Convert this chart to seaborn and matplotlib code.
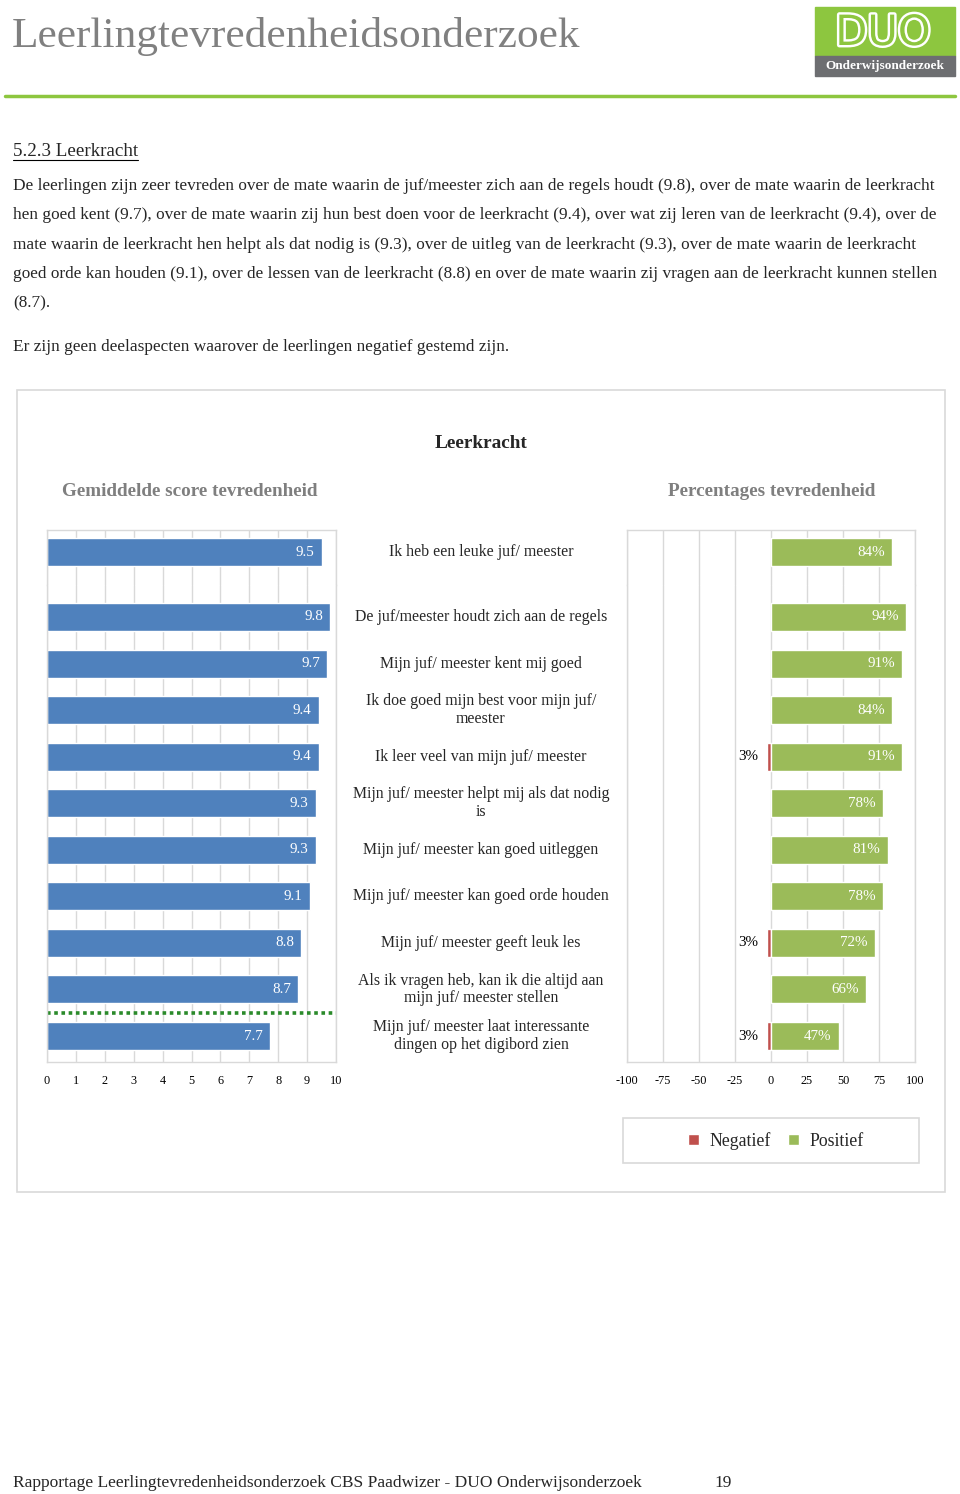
"""
Leerlingtevredenheidsonderzoek - pagina 19, hoofdstuk 5.2.3 Leerkracht
"""

import matplotlib
matplotlib.use("Agg")

import matplotlib.pyplot as plt
import matplotlib.patheffects as pe
import matplotlib.transforms as mtransforms
from matplotlib.patches import Rectangle
from matplotlib.lines import Line2D
import seaborn as sns
import pandas as pd

# ---- data ----
top_label = "Ik heb een leuke juf/ meester"
top_score = 9.5
top_pos = 84
top_neg = 0

items = [
    "De juf/meester houdt zich aan de regels",
    "Mijn juf/ meester kent mij goed",
    "Ik doe goed mijn best voor mijn juf/\nmeester",
    "Ik leer veel van mijn juf/ meester",
    "Mijn juf/ meester helpt mij als dat nodig\nis",
    "Mijn juf/ meester kan goed uitleggen",
    "Mijn juf/ meester kan goed orde houden",
    "Mijn juf/ meester geeft leuk les",
    "Als ik vragen heb, kan ik die altijd aan\nmijn juf/ meester stellen",
    "Mijn juf/ meester laat interessante\ndingen op het digibord zien",
]
scores = [9.8, 9.7, 9.4, 9.4, 9.3, 9.3, 9.1, 8.8, 8.7, 7.7]
positief = [94, 91, 84, 91, 78, 81, 78, 72, 66, 47]
negatief = [0, 0, 0, 3, 0, 0, 0, 3, 0, 3]

score_ticks = list(range(0, 11))
pct_ticks = [-100, -75, -50, -25, 0, 25, 50, 75, 100]

BLUE = "#4F81BD"
GREEN = "#9BBB59"
RED = "#C0504D"
GRID = "#D9D9D9"
GRAY_TXT = "#7F7F7F"

sns.set_theme(style="white")
plt.rcParams["font.family"] = ["Liberation Serif", "DejaVu Serif"]

W, H = 960, 1494
fig = plt.figure(figsize=(W / 100, H / 100), dpi=100)


def fx(x):
    return x / W


def fy(y):
    return 1 - y / H


def box(x0, y0, x1, y1):
    return [fx(x0), fy(y1), fx(x1) - fx(x0), fy(y0) - fy(y1)]


# ---- page header ----
fig.text(fx(12), fy(47), "Leerlingtevredenheidsonderzoek", fontsize=31.2,
         color="#808080", va="baseline", ha="left")
fig.patches.append(Rectangle((fx(815), fy(56)), fx(140), fy(7) - fy(56),
                             transform=fig.transFigure, color="#8DC63F"))
fig.patches.append(Rectangle((fx(815), fy(76)), fx(140), fy(56) - fy(76),
                             transform=fig.transFigure, color="#6D6E71"))
fig.text(fx(883), fy(33), "DUO", fontsize=30, color="#8DC63F", ha="center",
         va="center", family=["DejaVu Sans"],
         path_effects=[pe.withStroke(linewidth=3.5, foreground="white")])
fig.text(fx(885), fy(66), "Onderwijsonderzoek", fontsize=9.5, color="white",
         ha="center", va="center", fontweight="bold")
fig.lines.append(Line2D([fx(5), fx(955)], [fy(96), fy(96)],
                        transform=fig.transFigure, color="#8DC63F", lw=2.5))

# ---- text body ----
fig.text(fx(13), fy(151), "5.2.3 Leerkracht", fontsize=13.7, va="center")
fig.lines.append(Line2D([fx(13), fx(138)], [fy(160), fy(160)],
                        transform=fig.transFigure, color="black", lw=0.8))

body = [
    "De leerlingen zijn zeer tevreden over de mate waarin de juf/meester zich aan de regels houdt (9.8), over de mate waarin de leerkracht",
    "hen goed kent (9.7), over de mate waarin zij hun best doen voor de leerkracht (9.4), over wat zij leren van de leerkracht (9.4), over de",
    "mate waarin de leerkracht hen helpt als dat nodig is (9.3), over de uitleg van de leerkracht (9.3), over de mate waarin de leerkracht",
    "goed orde kan houden (9.1), over de lessen van de leerkracht (8.8) en over de mate waarin zij vragen aan de leerkracht kunnen stellen",
    "(8.7).",
]
for i, line in enumerate(body):
    fig.text(fx(13), fy(186 + i * 29.3), line, fontsize=12.45, va="center")
fig.text(fx(13), fy(347), "Er zijn geen deelaspecten waarover de leerlingen negatief gestemd zijn.",
         fontsize=12.45, va="center")

# ---- chart frame and titles ----
fig.patches.append(Rectangle((fx(17), fy(1192)), fx(928), fy(390) - fy(1192),
                             transform=fig.transFigure, fill=False,
                             edgecolor=GRID, lw=1.2))
fig.text(fx(481), fy(443), "Leerkracht", fontsize=13.9, fontweight="bold",
         ha="center", va="center")
fig.text(fx(190), fy(491), "Gemiddelde score tevredenheid", fontsize=13.8,
         fontweight="bold", color=GRAY_TXT, ha="center", va="center")
fig.text(fx(772), fy(491), "Percentages tevredenheid", fontsize=13.8,
         fontweight="bold", color=GRAY_TXT, ha="center", va="center")

# ---- axes ----
ax_st = fig.add_axes(box(47, 530, 336, 585))
ax_sb = fig.add_axes(box(47, 585, 336, 1062))
ax_pt = fig.add_axes(box(627, 530, 915, 585))
ax_pb = fig.add_axes(box(627, 585, 915, 1062))

TOP_YLIM = (0.708, -0.472)
BOT_YLIM = (9.558, -0.687)

# scores
sns.barplot(x=[top_score], y=[top_label], orient="h", color=BLUE,
            width=0.6, saturation=1, ax=ax_st)
sns.barplot(x=scores, y=items, orient="h", color=BLUE, width=0.6,
            saturation=1, ax=ax_sb)
ax_st.text(top_score - 0.25, 0, f"{top_score:.1f}", color="white",
           ha="right", va="center", fontsize=10.8)
for i, v in enumerate(scores):
    ax_sb.text(v - 0.25, i, f"{v:.1f}", color="white", ha="right",
               va="center", fontsize=10.8)
ax_sb.axhline(8.5, color="#2A8A2A", ls=(0, (1, 1)), lw=2.6)

# percentages
df_top = pd.DataFrame({
    "item": [top_label, top_label],
    "pct": [-top_neg, top_pos],
    "soort": ["Negatief", "Positief"],
})
df_bot = pd.DataFrame({
    "item": items + items,
    "pct": [-n for n in negatief] + positief,
    "soort": ["Negatief"] * len(items) + ["Positief"] * len(items),
})
pal = {"Negatief": RED, "Positief": GREEN}
sns.barplot(data=df_top, x="pct", y="item", hue="soort", palette=pal,
            dodge=False, orient="h", width=0.6, saturation=1, ax=ax_pt,
            legend=False)
sns.barplot(data=df_bot, x="pct", y="item", hue="soort", palette=pal,
            dodge=False, orient="h", width=0.6, saturation=1, ax=ax_pb)

ax_pt.text(top_pos - 5, 0, f"{top_pos}%", color="white", ha="right",
           va="center", fontsize=10.8)
for i, (p, n) in enumerate(zip(positief, negatief)):
    ax_pb.text(p - 5, i, f"{p}%", color="white", ha="right", va="center",
               fontsize=10.8)
    if n:
        ax_pb.text(-n - 6, i, f"{n}%", color="black", ha="right",
                   va="center", fontsize=10.8)

handles, labels = ax_pb.get_legend_handles_labels()
ax_pb.get_legend().remove()

for ax in (ax_st, ax_sb, ax_pt, ax_pb):
    ax.set_ylabel("")
    ax.set_xlabel("")
    ax.set_yticks([])
    ax.grid(axis="x", color=GRID, lw=1)
    ax.set_axisbelow(True)
    for s in ax.spines.values():
        s.set_color(GRID)
        s.set_linewidth(1)

for ax in (ax_st, ax_sb):
    ax.set_xlim(0, 10)
    ax.set_xticks(score_ticks)
    ax.set_xticklabels([str(t) for t in score_ticks])
for ax in (ax_pt, ax_pb):
    ax.set_xlim(-100, 100)
    ax.set_xticks(pct_ticks)
    ax.set_xticklabels([str(t) for t in pct_ticks])

for ax in (ax_st, ax_pt):
    ax.set_ylim(*TOP_YLIM)
    ax.spines["bottom"].set_visible(False)
    ax.tick_params(axis="x", labelbottom=False, length=0)
for ax in (ax_sb, ax_pb):
    ax.set_ylim(*BOT_YLIM)
    ax.spines["top"].set_visible(False)
    ax.tick_params(axis="x", labelsize=8.8, length=0, pad=9, colors="black")

# middle labels
for ax, labs in ((ax_st, [top_label]), (ax_sb, items)):
    tr = mtransforms.blended_transform_factory(fig.transFigure, ax.transData)
    for i, lab in enumerate(labs):
        ax.text(fx(481), i, lab, transform=tr, ha="center", va="center",
                fontsize=11.4, linespacing=1.15, clip_on=False)

# legend
fig.patches.append(Rectangle((fx(623), fy(1163)), fx(296), fy(1118) - fy(1163),
                             transform=fig.transFigure, fill=False,
                             edgecolor=GRID, lw=1.2))
fig.legend(handles, labels, loc="center", bbox_to_anchor=(fx(776), fy(1141)),
           ncol=2, frameon=False, fontsize=12.8, handlelength=0.6,
           handleheight=0.6, handletextpad=0.6, columnspacing=1.0)

# footer
fig.text(fx(13), fy(1483),
         "Rapportage Leerlingtevredenheidsonderzoek CBS Paadwizer - DUO Onderwijsonderzoek",
         fontsize=12.5, va="center")
fig.text(fx(714), fy(1483), "19", fontsize=12.5, va="center")

fig.savefig("out.png", dpi=100, facecolor="white")
